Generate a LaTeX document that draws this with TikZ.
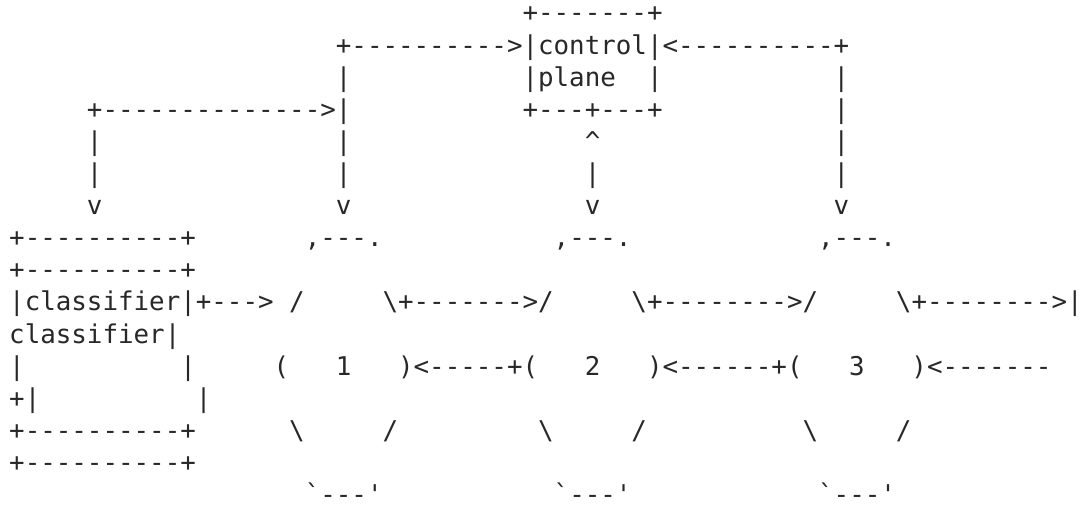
\documentclass[tikz,border=0pt]{standalone}
\usepackage{fontspec}
\setmonofont{DejaVu Sans Mono}
\definecolor{ink}{RGB}{40,40,40}
\newlength\cw
\newcommand\gp[1]{\hspace*{#1\cw}}
\newcommand\asciifont{\ttfamily\fontsize{19.38pt}{24pt}\selectfont}
\tikzset{asciiline/.style={anchor=base west, inner sep=0pt, outer sep=0pt, font=\asciifont, text=ink}}
\begin{document}
\settowidth{\cw}{\asciifont x}%
\begin{tikzpicture}[x=0.75pt,y=-0.75pt]
\useasboundingbox (0,0) rectangle (1081,510);
\def\lx{9.2}
\def\ly#1{22+#1*32.1}
\node[asciiline] (l1)  at (\lx,{\ly{0}})  {\gp{33}+-------+};
\node[asciiline] (l2)  at (\lx,{\ly{1}})  {\gp{21}+---------->|control|<----------+};
\node[asciiline] (l3)  at (\lx,{\ly{2}})  {\gp{21}|\gp{11}|plane\gp{2}|\gp{11}|};
\node[asciiline] (l4)  at (\lx,{\ly{3}})  {\gp{5}+-------------->|\gp{11}+---+---+\gp{11}|};
\node[asciiline] (l5)  at (\lx,{\ly{4}})  {\gp{5}|\gp{15}|\gp{15}\textasciicircum\gp{15}|};
\node[asciiline] (l6)  at (\lx,{\ly{5}})  {\gp{5}|\gp{15}|\gp{15}|\gp{15}|};
\node[asciiline] (l7)  at (\lx,{\ly{6}})  {\gp{5}v\gp{15}v\gp{15}v\gp{15}v};
\node[asciiline] (l8)  at (\lx,{\ly{7}})  {+----------+\gp{7},---.\gp{11},---.\gp{12},---.};
\node[asciiline] (l9)  at (\lx,{\ly{8}})  {+----------+};
\node[asciiline] (l10) at (\lx,{\ly{9}})  {|classifier|+--->\gp{1}/\gp{5}\textbackslash+------->/\gp{5}\textbackslash+-------->/\gp{5}\textbackslash+-------->|};
\node[asciiline] (l11) at (\lx,{\ly{10}}) {classifier|};
\node[asciiline] (l12) at (\lx,{\ly{11}}) {|\gp{10}|\gp{5}(\gp{3}1\gp{3})<-----+(\gp{3}2\gp{3})<------+(\gp{3}3\gp{3})<-------};
\node[asciiline] (l13) at (\lx,{\ly{12}}) {+|\gp{10}|};
\node[asciiline] (l14) at (\lx,{\ly{13}}) {+----------+\gp{6}\textbackslash\gp{5}/\gp{9}\textbackslash\gp{5}/\gp{10}\textbackslash\gp{5}/};
\node[asciiline] (l15) at (\lx,{\ly{14}}) {+----------+};
\node[asciiline] (l16) at (\lx,{\ly{15}}) {\gp{19}`---'\gp{11}`---'\gp{12}`---'};
\end{tikzpicture}
\end{document}
